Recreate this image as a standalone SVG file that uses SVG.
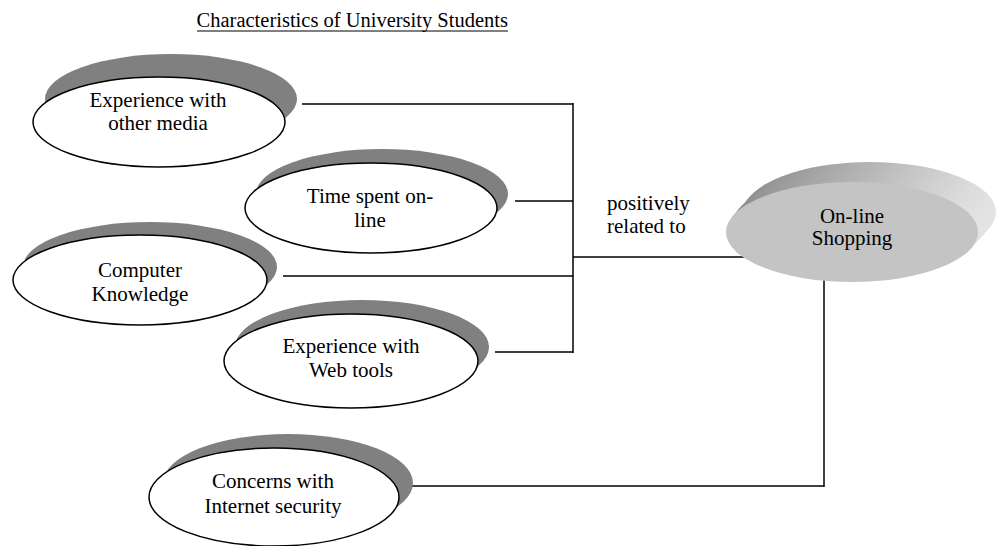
<svg xmlns="http://www.w3.org/2000/svg" width="997" height="546" viewBox="0 0 997 546">
<defs>
<style>
.lbl{font-family:"Liberation Serif","Times New Roman",serif;font-size:21px;fill:#000;text-anchor:middle}
.txt{font-family:"Liberation Serif","Times New Roman",serif;font-size:21px;fill:#000}
.title{font-family:"Liberation Serif","Times New Roman",serif;font-size:20.5px;fill:#000}
.sh{fill:#808080;stroke:none}
.el{fill:#fff;stroke:#000;stroke-width:1.5}
.con{stroke:#000;stroke-width:1.5;fill:none}
</style>
<linearGradient id="ext" x1="0" y1="0" x2="1" y2="0">
<stop offset="0" stop-color="#8c8c8c"/>
<stop offset="0.5" stop-color="#b4b4b4"/>
<stop offset="1" stop-color="#e4e4e4"/>
</linearGradient>
</defs>
<rect width="997" height="546" fill="#fff"/>
<g id="title">
<text class="title" x="508" y="27" text-anchor="end">Characteristics of University Students</text>
<line x1="197" y1="31" x2="508" y2="31" stroke="#000" stroke-width="1"/>
</g>
<g id="connectors">
<line class="con" x1="302" y1="104" x2="573" y2="104"/>
<line class="con" x1="515" y1="201" x2="573" y2="201"/>
<line class="con" x1="283" y1="276" x2="573" y2="276"/>
<line class="con" x1="495" y1="352" x2="573" y2="352"/>
<line class="con" x1="573" y1="103" x2="573" y2="353"/>
<line class="con" x1="573" y1="257" x2="748" y2="257"/>
<line class="con" x1="824" y1="277" x2="824" y2="487"/>
<line class="con" x1="400" y1="486" x2="824" y2="486"/>
</g>
<g id="n1">
<ellipse class="sh" cx="171" cy="99" rx="126" ry="45"/>
<ellipse class="el" cx="159" cy="122" rx="126" ry="45"/>
<text class="lbl" x="158" y="107">Experience with</text>
<text class="lbl" x="158" y="130">other media</text>
</g>
<g id="n2">
<ellipse class="sh" cx="382" cy="194" rx="126" ry="45"/>
<ellipse class="el" cx="371" cy="208" rx="126" ry="45"/>
<text class="lbl" x="370" y="203">Time spent on-</text>
<text class="lbl" x="370" y="227">line</text>
</g>
<g id="n3">
<ellipse class="sh" cx="150" cy="267" rx="127" ry="45"/>
<ellipse class="el" cx="140" cy="280" rx="127" ry="45"/>
<text class="lbl" x="140" y="277">Computer</text>
<text class="lbl" x="140" y="301">Knowledge</text>
</g>
<g id="n4">
<ellipse class="sh" cx="362" cy="347" rx="127" ry="47"/>
<ellipse class="el" cx="351" cy="361" rx="127" ry="47"/>
<text class="lbl" x="351" y="353">Experience with</text>
<text class="lbl" x="351" y="377">Web tools</text>
</g>
<g id="n5">
<ellipse class="sh" cx="288" cy="483" rx="125" ry="49"/>
<ellipse class="el" cx="274" cy="497" rx="125" ry="49"/>
<text class="lbl" x="273" y="488">Concerns with</text>
<text class="lbl" x="273" y="513">Internet security</text>
</g>
<g id="label">
<text class="txt" x="607" y="210">positively</text>
<text class="txt" x="607" y="233">related to</text>
</g>
<g id="shopping">
<ellipse cx="870" cy="212" rx="126" ry="50" fill="url(#ext)"/>
<ellipse cx="867" cy="215" rx="126" ry="50" fill="url(#ext)"/>
<ellipse cx="864" cy="219" rx="126" ry="50" fill="url(#ext)"/>
<ellipse cx="861" cy="222" rx="126" ry="50" fill="url(#ext)"/>
<ellipse cx="858" cy="225" rx="126" ry="50" fill="url(#ext)"/>
<ellipse cx="855" cy="229" rx="126" ry="50" fill="url(#ext)"/>
<ellipse cx="852" cy="232" rx="126" ry="50" fill="#c4c4c4"/>
<text class="lbl" x="852" y="223">On-line</text>
<text class="lbl" x="852" y="245">Shopping</text>
</g>
</svg>
